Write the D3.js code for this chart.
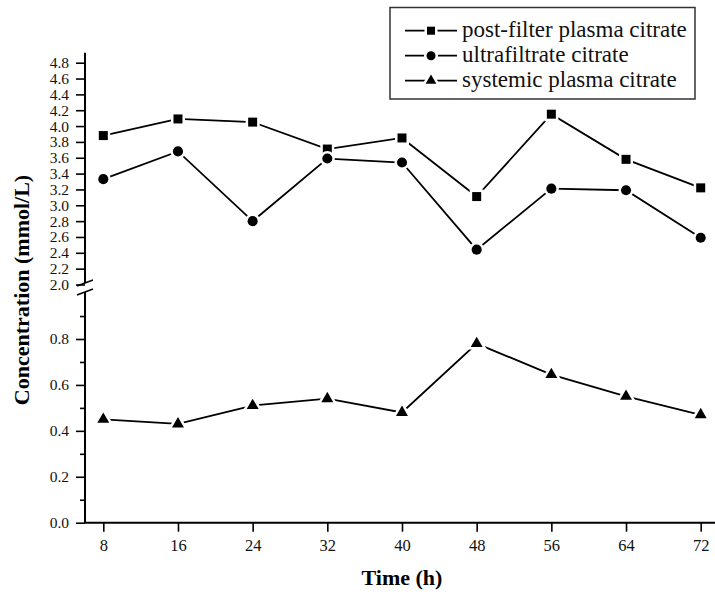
<!DOCTYPE html>
<html>
<head>
<meta charset="utf-8">
<script src="https://cdn.jsdelivr.net/npm/d3@7"></script>
<style>
    body { margin: 0; background: #fff; }
    svg { display: block; font-family: "Liberation Serif", "Times New Roman", serif; }
</style>
</head>
<body>
<div id="chart"></div>
<script>
// sampling times (h)
var hours = [8, 16, 24, 32, 40, 48, 56, 64, 72];

// concentrations (mmol/L)
var postFilter    = [3.88, 4.09, 4.05, 3.71, 3.85, 3.11, 4.15, 3.58, 3.22];
var ultrafiltrate = [3.33, 3.68, 2.80, 3.59, 3.54, 2.44, 3.21, 3.19, 2.59];
var systemic      = [0.45, 0.43, 0.51, 0.54, 0.48, 0.78, 0.645, 0.55, 0.47];

var seriesNames = ["post-filter plasma citrate", "ultrafiltrate citrate", "systemic plasma citrate"];

// tick values for the two parts of the broken y axis
var upperTicks = [2.0, 2.2, 2.4, 2.6, 2.8, 3.0, 3.2, 3.4, 3.6, 3.8, 4.0, 4.2, 4.4, 4.6, 4.8];
var lowerTicks = [0.0, 0.2, 0.4, 0.6, 0.8];
var lowerMinor = [0.1, 0.3, 0.5, 0.7, 0.9];

var drawChart = (function() {

    var x = d3.scaleLinear().domain([8, 72]).range([103.3, 700.7]);
    var yUp = d3.scaleLinear().domain([2.0, 4.8]).range([284.5, 62.7]);
    var yLow = d3.scaleLinear().domain([0, 0.8]).range([522.7, 339]);
    var axisX = 85;

//marker shapes
    var symbols = [d3.symbolSquare, d3.symbolCircle, d3.symbolTriangle];
    var sizes = [81, 80, 62];

    function marker(group, i, cx, cy, scale) {
        group.append("path")
            .attr("d", d3.symbol().type(symbols[i]).size(sizes[i] * scale)())
            .attr("transform", "translate(" + cx + "," + cy + ")")
            .style("fill", "#000")
            .style("stroke", "#fff")
            .style("stroke-width", 5)
            .style("paint-order", "stroke");
    }

//one line series with its markers
    function addSeries(svg, values, y, i) {
        var line = d3.line()
            .x(function(d, k) { return x(hours[k]); })
            .y(function(d) { return y(d); });
        svg.append("path")
            .datum(values)
            .attr("d", line)
            .style("fill", "none")
            .style("stroke", "#000")
            .style("stroke-width", 1.8);
        var g = svg.append("g");
        values.forEach(function(v, k) {
            marker(g, i, x(hours[k]), y(v), 1);
        });
    }

//both parts of the y axis with the break marks
    function addYAxis(svg) {
        var up = svg.append("g")
            .attr("transform", "translate(" + axisX + ",0)")
            .call(d3.axisLeft(yUp).tickValues(upperTicks).tickFormat(d3.format(".1f"))
                .tickSize(9).tickSizeOuter(0).tickPadding(7));
        var low = svg.append("g")
            .attr("transform", "translate(" + axisX + ",0)")
            .call(d3.axisLeft(yLow).tickValues(lowerTicks).tickFormat(d3.format(".1f"))
                .tickSize(9).tickSizeOuter(0).tickPadding(7));
        var minor = svg.append("g")
            .attr("transform", "translate(" + axisX + ",0)")
            .call(d3.axisLeft(yLow).tickValues(lowerMinor).tickFormat("")
                .tickSize(5).tickSizeOuter(0));

        [up, low, minor].forEach(function(a) {
            a.select(".domain").remove();
            a.selectAll("line").style("stroke", "#000").style("stroke-width", 1.6);
            a.selectAll("text").style("font-size", "15.5px").style("fill", "#111")
                .style("font-family", "'Liberation Serif', serif");
        });

        //axis lines, upper segment runs a bit past 4.8
        svg.append("line")
            .attr("x1", axisX).attr("x2", axisX)
            .attr("y1", yUp(4.925)).attr("y2", 283)
            .style("stroke", "#000").style("stroke-width", 2);
        svg.append("line")
            .attr("x1", axisX).attr("x2", axisX)
            .attr("y1", 292).attr("y2", yLow(0))
            .style("stroke", "#000").style("stroke-width", 2);

        //break slashes
        [283, 292].forEach(function(cy) {
            svg.append("line")
                .attr("x1", axisX - 8).attr("y1", cy + 3)
                .attr("x2", axisX + 8).attr("y2", cy - 3)
                .style("stroke", "#000").style("stroke-width", 1.6);
        });

        svg.append("text")
            .attr("transform", "translate(29,290) rotate(-90)")
            .attr("text-anchor", "middle")
            .style("font-size", "22px")
            .style("font-weight", "bold")
            .text("Concentration (mmol/L)");
    }

//x axis
    function addXAxis(svg) {
        var ax = svg.append("g")
            .attr("transform", "translate(0," + yLow(0) + ")")
            .call(d3.axisBottom(x).tickValues(hours).tickSize(9).tickSizeOuter(0).tickPadding(8));
        ax.select(".domain").remove();
        ax.selectAll("line").style("stroke", "#000").style("stroke-width", 1.6);
        ax.selectAll("text").style("font-size", "16.5px").style("fill", "#111")
            .style("font-family", "'Liberation Serif', serif");

        svg.append("line")
            .attr("x1", axisX - 1).attr("x2", 715)
            .attr("y1", yLow(0)).attr("y2", yLow(0))
            .style("stroke", "#000").style("stroke-width", 2);

        svg.append("text")
            .attr("x", 402)
            .attr("y", 585)
            .attr("text-anchor", "middle")
            .style("font-size", "22px")
            .style("font-weight", "bold")
            .text("Time (h)");
    }

//legend box at top right
    function addLegend(svg) {
        var lg = svg.append("g");
        lg.append("rect")
            .attr("x", 390).attr("y", 7.5)
            .attr("width", 305).attr("height", 91.5)
            .style("fill", "#fff")
            .style("stroke", "#333")
            .style("stroke-width", 1.5);
        seriesNames.forEach(function(name, i) {
            var cy = 30.7 + i * 25;
            lg.append("line")
                .attr("x1", 405).attr("x2", 457)
                .attr("y1", cy).attr("y2", cy)
                .style("stroke", "#000").style("stroke-width", 1.8);
            marker(lg, i, 431, cy, 0.8);
            lg.append("text")
                .attr("x", 462)
                .attr("y", cy + 6.5)
                .style("font-size", "23px")
                .style("fill", "#111")
                .text(name);
        });
    }

    return {
        render: function(placement) {
            d3.select(placement).html("");
            var svg = d3.select(placement).append("svg")
                .attr("width", 715)
                .attr("height", 595);

            addYAxis(svg);
            addXAxis(svg);

            addSeries(svg, postFilter, yUp, 0);
            addSeries(svg, ultrafiltrate, yUp, 1);
            addSeries(svg, systemic, yLow, 2);

            addLegend(svg);
        }
    };
})();

drawChart.render("#chart");
</script>
</body>
</html>
